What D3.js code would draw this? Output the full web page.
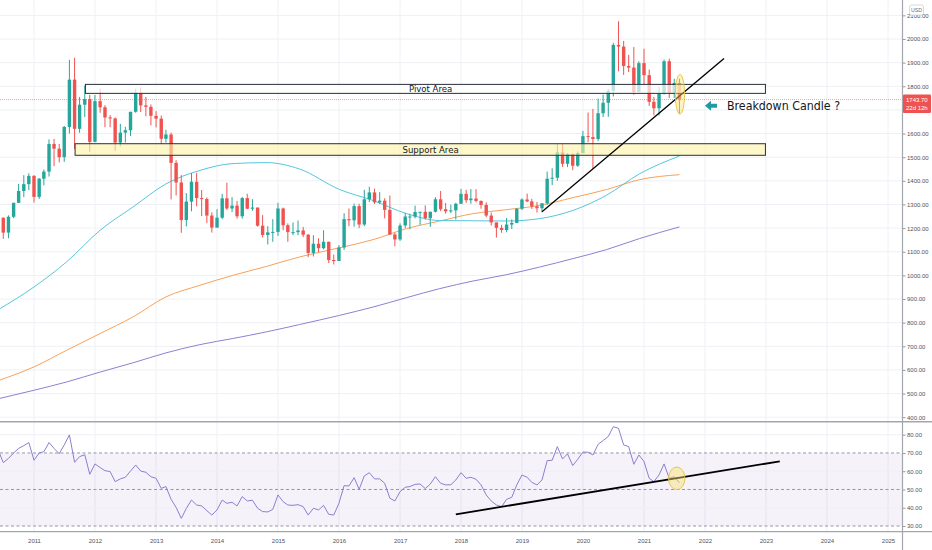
<!DOCTYPE html>
<html>
<head>
<meta charset="utf-8">
<script src="https://cdn.jsdelivr.net/npm/d3@7"></script>
<style>
  body { margin: 0; background: #fff; }
  svg { display: block; }
  .axis text { font-family: "Liberation Sans", Arial, sans-serif; font-size: 6px; fill: #50535e; }
  .note { font-family: "Liberation Sans Narrow", "DejaVu Sans Condensed", sans-serif; fill: #131722; }
</style>
</head>
<body>
<svg id="chart" width="932" height="550"></svg>
<script>
// monthly gold candles, Jun 2010 .. Aug 2021
const firstMonth = new Date(2010, 5, 1);
const lastMonth = new Date(2021, 7, 1);

const opens = [
  1214, 1244, 1181, 1248, 1307, 1357, 1386,
  1421, 1332, 1409, 1439, 1556, 1536, 1500, 1628, 1828, 1620, 1722, 1746,
  1565, 1737, 1711, 1668, 1664, 1562, 1604, 1614, 1692, 1772, 1719, 1713,
  1675, 1663, 1578, 1596, 1476, 1393, 1234, 1312, 1396, 1327, 1323, 1253,
  1202, 1244, 1326, 1283, 1295, 1250, 1327, 1282, 1287, 1210, 1171, 1182,
  1184, 1283, 1212, 1183, 1183, 1190, 1172, 1095, 1134, 1115, 1142, 1065,
  1061, 1118, 1238, 1233, 1293, 1215, 1322, 1351, 1309, 1316, 1277, 1173,
  1152, 1211, 1249, 1249, 1268, 1269, 1242, 1269, 1322, 1280, 1271, 1275,
  1303, 1345, 1318, 1325, 1315, 1298, 1253, 1224, 1201, 1192, 1215, 1222,
  1282, 1321, 1313, 1292, 1284, 1305, 1409, 1413, 1520, 1472, 1513, 1464,
  1517, 1589, 1585, 1577, 1686, 1730, 1781, 1975, 1968, 1886, 1879, 1776,
  1898, 1847, 1734, 1707, 1769, 1906, 1770, 1814
];
const highs = [
  1266, 1245, 1254, 1307, 1387, 1424, 1432,
  1424, 1412, 1448, 1575, 1577, 1556, 1632, 1912, 1921, 1755, 1803, 1764,
  1763, 1791, 1720, 1678, 1668, 1641, 1629, 1692, 1790, 1796, 1755, 1723,
  1695, 1676, 1616, 1604, 1487, 1424, 1348, 1433, 1434, 1361, 1330, 1267,
  1280, 1345, 1392, 1331, 1315, 1332, 1345, 1322, 1287, 1255, 1208, 1238,
  1307, 1287, 1220, 1224, 1232, 1205, 1175, 1170, 1157, 1191, 1143, 1088,
  1128, 1263, 1283, 1304, 1303, 1362, 1375, 1367, 1352, 1326, 1338, 1180,
  1220, 1264, 1261, 1295, 1269, 1296, 1270, 1331, 1357, 1306, 1299, 1307,
  1366, 1362, 1365, 1365, 1317, 1309, 1266, 1224, 1214, 1243, 1237, 1284,
  1326, 1346, 1324, 1310, 1306, 1439, 1453, 1555, 1557, 1517, 1516, 1525,
  1611, 1689, 1704, 1748, 1765, 1789, 1984, 2075, 1992, 1933, 1966, 1906,
  1959, 1871, 1755, 1798, 1913, 1917, 1832, 1832
];
const lows = [
  1200, 1155, 1157, 1242, 1306, 1331, 1360,
  1308, 1323, 1381, 1418, 1462, 1478, 1480, 1600, 1535, 1603, 1670, 1523,
  1563, 1688, 1627, 1627, 1527, 1546, 1562, 1590, 1688, 1691, 1673, 1635,
  1626, 1555, 1562, 1321, 1338, 1180, 1207, 1271, 1292, 1251, 1221, 1181,
  1202, 1238, 1277, 1268, 1240, 1240, 1280, 1273, 1206, 1160, 1131, 1142,
  1167, 1191, 1142, 1170, 1170, 1162, 1077, 1080, 1098, 1110, 1052, 1046,
  1061, 1108, 1208, 1206, 1200, 1208, 1310, 1302, 1302, 1241, 1171, 1123,
  1146, 1200, 1195, 1241, 1214, 1236, 1205, 1266, 1272, 1261, 1264, 1236,
  1302, 1307, 1303, 1309, 1282, 1246, 1211, 1160, 1180, 1182, 1196, 1221,
  1276, 1310, 1281, 1266, 1267, 1298, 1382, 1400, 1459, 1458, 1445, 1459,
  1517, 1563, 1451, 1568, 1670, 1671, 1757, 1863, 1848, 1860, 1764, 1775,
  1802, 1717, 1677, 1677, 1765, 1750, 1751, 1684
];
const closes = [
  1244, 1181, 1248, 1307, 1357, 1386, 1421,
  1332, 1409, 1439, 1556, 1536, 1500, 1628, 1828, 1620, 1722, 1746, 1565,
  1737, 1711, 1668, 1664, 1562, 1604, 1614, 1692, 1772, 1719, 1713, 1675,
  1663, 1578, 1596, 1476, 1393, 1234, 1312, 1396, 1327, 1323, 1253, 1202,
  1244, 1326, 1283, 1295, 1250, 1327, 1282, 1287, 1210, 1171, 1182, 1184,
  1283, 1212, 1183, 1183, 1190, 1172, 1095, 1134, 1115, 1142, 1065, 1061,
  1118, 1238, 1233, 1293, 1215, 1322, 1351, 1309, 1316, 1277, 1173, 1152,
  1211, 1249, 1249, 1268, 1269, 1242, 1269, 1322, 1280, 1271, 1275, 1303,
  1345, 1318, 1325, 1315, 1298, 1253, 1224, 1201, 1192, 1215, 1222, 1282,
  1321, 1313, 1292, 1284, 1305, 1409, 1413, 1520, 1472, 1513, 1464, 1517,
  1589, 1585, 1577, 1686, 1730, 1781, 1975, 1968, 1886, 1879, 1776, 1898,
  1847, 1734, 1707, 1769, 1906, 1770, 1814, 1743.7
];

// RSI, same months
const rsiValues = [
  71.5, 64.7, 67, 70, 72.5, 74, 75.7,
  66, 70, 70.7, 75.7, 72.5, 69.6, 74.4, 79.9, 64.9, 68, 69, 58.3,
  64, 62, 60.3, 59.8, 54.3, 55.8, 56.7, 60.1, 63.4, 60.1, 59.4, 57,
  56.1, 50.6, 51.6, 44.6, 40.2, 34.2, 39.6, 44.2, 41.5, 41, 38.4, 36,
  38.8, 44.2, 42.4, 43, 41, 46.1, 43.7, 44.1, 39.7, 37.9, 37.7, 39.1,
  47, 43.3, 41.5, 41.3, 41.7, 40.6, 36, 39.7, 38.8, 41.3, 36.4, 36,
  42.4, 52.1, 51.9, 56.5, 50.1, 57.4, 59.2, 55.8, 55.8, 53.4, 45.2, 43.7,
  48.8, 51.2, 51.6, 52.8, 53, 50.5, 53, 57, 53.4, 52.5, 52.6, 55.2,
  59.2, 56.1, 56.7, 55.6, 52.5, 47, 43.7, 41.5, 40.6, 44.6, 45.7, 52.5,
  57.9, 56.7, 53.9, 52.5, 55.2, 65.8, 66, 73.5, 66.7, 69.5, 63.1, 66.5,
  70.5, 70.4, 68.9, 74.7, 76.8, 79, 84.4, 83.5, 74.4, 73.5, 63.8, 68.9,
  65.3, 56.1, 54.3, 58, 64, 56.1, 57, 53.7
];

// moving averages
const maDates = ["2010-06-01", "2011-01-01", "2011-07-15", "2012-02-01", "2012-08-15",
  "2013-03-01", "2013-09-20", "2014-04-06", "2014-10-24", "2015-05-10", "2016-01-06",
  "2016-07-23", "2017-02-10", "2017-08-27", "2018-03-13", "2018-10-01", "2019-04-16",
  "2019-11-03", "2020-05-21", "2020-12-06", "2021-08-01"];
const ma50 = [855, 951, 1057, 1191, 1289, 1387, 1444, 1473, 1477, 1450, 1363,
  1317, 1261, 1232, 1231, 1230, 1240, 1275, 1339, 1430, 1505];
const ma100 = [555, 613, 683, 754, 824, 909, 958, 1000, 1038, 1078, 1117,
  1151, 1198, 1230, 1261, 1278, 1296, 1329, 1363, 1405, 1426];
const ma200 = [478, 514, 549, 591, 630, 672, 707, 733, 761, 792, 831,
  866, 906, 944, 976, 1003, 1035, 1071, 1109, 1156, 1205];

const priceTicks = [400, 500, 600, 700, 800, 900, 1000, 1100, 1200, 1300, 1400,
  1500, 1600, 1700, 1800, 1900, 2000, 2100];
const rsiTicks = [30, 40, 50, 60, 70, 80];
const rsiLevels = [30, 50, 70];
const yearTicks = [2011, 2012, 2013, 2014, 2015, 2016, 2017, 2018, 2019, 2020,
  2021, 2022, 2023, 2024, 2025];

const lastPrice = 1743.7;
const countdown = "22d 12h";

// drawings
const pivotArea = { from: "2011-11-05", to: "2022-12-29", low: 1770, high: 1808, label: "Pivot Area" };
const supportArea = { from: "2011-09-04", to: "2022-12-29", low: 1508, high: 1557, label: "Support Area" };
const labelDate = "2017-07-03";
const priceTrend = [["2019-05-01", 1269], ["2022-04-25", 1918]];
const rsiTrend = [["2017-12-01", 36.4], ["2023-03-25", 65.4]];
const priceCircle = { date: "2021-08-04", value: 1766 };
const rsiCircle = { date: "2021-07-16", value: 56.1 };
const arrowAt = { date: "2022-01-01", value: 1718 };
const noteText = "Breakdown Candle ?";

// ---------------------------------------------------------------
const svg = d3.select("#chart");
const W = 932;
const axisX = 902.5;
const paneSplit = 421.7;
const timeAxisY = 531.7;
const parse = d3.timeParse("%Y-%m-%d");

const x = d3.scaleTime()
  .domain([new Date(2011, 0, 1), new Date(2025, 0, 1)])
  .range([34, 888]);
const yPrice = d3.scaleLinear().domain([400, 2000]).range([417.2, 39]);
const yRsi = d3.scaleLinear().domain([30, 80]).range([526, 434.7]);

const months = d3.timeMonth.range(firstMonth, d3.timeMonth.offset(lastMonth, 1));
const candles = months.map((d, i) => ({
  date: d, o: opens[i], h: highs[i], l: lows[i], c: closes[i], rsi: rsiValues[i]
}));

// last price label box (axis labels under it are hidden, like on the platform)
const lp = yPrice(lastPrice);
const lpTop = lp - 5, lpBottom = lp + 13.5;
const priceLabels = priceTicks.filter(t => yPrice(t) + 3 < lpTop || yPrice(t) - 3 > lpBottom);

const defs = svg.append("defs");
defs.append("clipPath").attr("id", "clipPrice")
  .append("rect").attr("x", 0).attr("y", 0).attr("width", axisX).attr("height", paneSplit - 0.5);
defs.append("clipPath").attr("id", "clipRsi")
  .append("rect").attr("x", 0).attr("y", paneSplit + 0.5).attr("width", axisX)
  .attr("height", timeAxisY - paneSplit - 1);

const gridColor = "#eef0f5";

// vertical year grid over both panes
svg.append("g").selectAll("line")
  .data(yearTicks)
  .join("line")
  .attr("x1", d => x(new Date(d, 0, 1))).attr("x2", d => x(new Date(d, 0, 1)))
  .attr("y1", 0).attr("y2", timeAxisY)
  .attr("stroke", gridColor).attr("stroke-width", 1);

// ---------------- price pane ----------------
const price = svg.append("g").attr("clip-path", "url(#clipPrice)");

price.append("g").selectAll("line")
  .data(priceTicks)
  .join("line")
  .attr("x1", 0).attr("x2", axisX)
  .attr("y1", d => yPrice(d)).attr("y2", d => yPrice(d))
  .attr("stroke", gridColor);

// last price line
price.append("line")
  .attr("x1", 0).attr("x2", axisX)
  .attr("y1", lp).attr("y2", lp)
  .attr("stroke", "#ef5350").attr("stroke-opacity", 0.55)
  .attr("stroke-dasharray", "1,1");

// moving averages
const maLine = d3.line()
  .x(d => x(d[0]))
  .y(d => yPrice(d[1]))
  .curve(d3.curveMonotoneX);
const maDateObjs = maDates.map(parse);
[[ma200, "#8f7fd3"], [ma100, "#f7a15a"], [ma50, "#55c6dc"]].forEach(([vals, color]) => {
  price.append("path")
    .datum(maDateObjs.map((d, i) => [d, vals[i]]))
    .attr("d", maLine)
    .attr("fill", "none")
    .attr("stroke", color)
    .attr("stroke-width", 1);
});

// candles
const up = "#26a69a", down = "#ef5350";
const bodyW = 3.4;
const cg = price.append("g").selectAll("g")
  .data(candles)
  .join("g")
  .attr("fill", d => d.c >= d.o ? up : down)
  .attr("stroke", d => d.c >= d.o ? up : down);
cg.append("line")
  .attr("x1", d => x(d.date)).attr("x2", d => x(d.date))
  .attr("y1", d => yPrice(d.h)).attr("y2", d => yPrice(d.l))
  .attr("stroke-width", 1);
cg.append("rect")
  .attr("x", d => x(d.date) - bodyW / 2)
  .attr("width", bodyW)
  .attr("y", d => yPrice(Math.max(d.o, d.c)))
  .attr("height", d => Math.max(1, Math.abs(yPrice(d.o) - yPrice(d.c))))
  .attr("stroke", "none");

// areas
function drawArea(a, fill) {
  const x0 = x(parse(a.from)), x1 = x(parse(a.to));
  const y0 = yPrice(a.high), y1 = yPrice(a.low);
  price.append("rect")
    .attr("x", x0).attr("y", y0)
    .attr("width", x1 - x0).attr("height", y1 - y0)
    .attr("fill", fill)
    .attr("stroke", "#2a2e39").attr("stroke-width", 1);
  price.append("text")
    .attr("class", "note")
    .attr("x", x(parse(labelDate)))
    .attr("y", (y0 + y1) / 2 + 3.2)
    .attr("text-anchor", "middle")
    .attr("font-size", 9.5)
    .text(a.label);
}
drawArea(pivotArea, "rgba(255,255,255,0.7)");
drawArea(supportArea, "rgba(253,242,170,0.62)");

// trend line
price.append("line")
  .attr("x1", x(parse(priceTrend[0][0]))).attr("y1", yPrice(priceTrend[0][1]))
  .attr("x2", x(parse(priceTrend[1][0]))).attr("y2", yPrice(priceTrend[1][1]))
  .attr("stroke", "#000").attr("stroke-width", 1.3);

// highlight ellipse
price.append("ellipse")
  .attr("cx", x(parse(priceCircle.date))).attr("cy", yPrice(priceCircle.value))
  .attr("rx", 4.6).attr("ry", 20)
  .attr("fill", "rgba(250,226,110,0.42)")
  .attr("stroke", "rgba(225,195,70,0.9)").attr("stroke-width", 1);

// arrow + note
const ax = x(parse(arrowAt.date)), ay = yPrice(arrowAt.value);
price.append("path")
  .attr("d", `M${ax},${ay} L${ax + 6},${ay - 5} L${ax + 6},${ay - 2} L${ax + 12},${ay - 2}
              L${ax + 12},${ay + 2} L${ax + 6},${ay + 2} L${ax + 6},${ay + 5} Z`)
  .attr("fill", "#1c9ba6");
price.append("text")
  .attr("class", "note")
  .attr("x", ax + 22).attr("y", ay + 4.3)
  .attr("font-size", 12.3)
  .text(noteText);

// ---------------- RSI pane ----------------
const rsi = svg.append("g").attr("clip-path", "url(#clipRsi)");

rsi.append("rect")
  .attr("x", 0).attr("width", axisX)
  .attr("y", yRsi(70)).attr("height", yRsi(30) - yRsi(70))
  .attr("fill", "rgba(126,87,194,0.08)");

rsi.append("g").selectAll("line")
  .data(rsiTicks.filter(t => !rsiLevels.includes(t)))
  .join("line")
  .attr("x1", 0).attr("x2", axisX)
  .attr("y1", d => yRsi(d)).attr("y2", d => yRsi(d))
  .attr("stroke", gridColor);

rsi.append("g").selectAll("line")
  .data(rsiLevels)
  .join("line")
  .attr("x1", 0).attr("x2", axisX)
  .attr("y1", d => yRsi(d)).attr("y2", d => yRsi(d))
  .attr("stroke", "#9598a1").attr("stroke-width", 1)
  .attr("stroke-dasharray", "3,2.5");

rsi.append("path")
  .datum(candles)
  .attr("d", d3.line().x(d => x(d.date)).y(d => yRsi(d.rsi)))
  .attr("fill", "none")
  .attr("stroke", "#8c7fcf")
  .attr("stroke-width", 1);

rsi.append("line")
  .attr("x1", x(parse(rsiTrend[0][0]))).attr("y1", yRsi(rsiTrend[0][1]))
  .attr("x2", x(parse(rsiTrend[1][0]))).attr("y2", yRsi(rsiTrend[1][1]))
  .attr("stroke", "#000").attr("stroke-width", 1.8);

rsi.append("ellipse")
  .attr("cx", x(parse(rsiCircle.date))).attr("cy", yRsi(rsiCircle.value))
  .attr("rx", 8.2).attr("ry", 11.3)
  .attr("fill", "rgba(250,226,110,0.45)")
  .attr("stroke", "rgba(225,195,70,0.9)").attr("stroke-width", 1);

// ---------------- axes ----------------
const priceAxis = svg.append("g")
  .attr("class", "axis")
  .attr("transform", `translate(${axisX},0)`)
  .call(d3.axisRight(yPrice).tickValues(priceLabels).tickFormat(d3.format(".2f"))
    .tickSize(3).tickPadding(1.5));
const rsiAxis = svg.append("g")
  .attr("class", "axis")
  .attr("transform", `translate(${axisX},0)`)
  .call(d3.axisRight(yRsi).tickValues(rsiTicks).tickFormat(d3.format(".2f"))
    .tickSize(3).tickPadding(1.5));
const timeAxis = svg.append("g")
  .attr("class", "axis")
  .attr("transform", `translate(0,${timeAxisY})`)
  .call(d3.axisBottom(x).tickValues(yearTicks.map(yr => new Date(yr, 0, 1)))
    .tickFormat(d3.timeFormat("%Y")).tickSize(0).tickPadding(7.5));
[priceAxis, rsiAxis, timeAxis].forEach(g => {
  g.select(".domain").remove();
  g.selectAll(".tick line").attr("stroke", "#9598a1");
});

// frame lines
svg.append("line")
  .attr("x1", 0).attr("x2", W).attr("y1", paneSplit).attr("y2", paneSplit)
  .attr("stroke", "#a3a6af").attr("stroke-width", 1.4);
svg.append("line")
  .attr("x1", 0).attr("x2", W).attr("y1", timeAxisY).attr("y2", timeAxisY)
  .attr("stroke", "#a3a6af").attr("stroke-width", 1.2);
svg.append("line")
  .attr("x1", axisX).attr("x2", axisX).attr("y1", 0).attr("y2", 550)
  .attr("stroke", "#a3a6af").attr("stroke-width", 1.2);

// last price label
const lbl = svg.append("g");
lbl.append("rect")
  .attr("x", axisX + 0.5).attr("y", lpTop).attr("width", 28).attr("height", lpBottom - lpTop)
  .attr("rx", 1).attr("fill", "#ef5350");
lbl.append("text")
  .attr("x", axisX + 3.5).attr("y", lp + 2.3)
  .attr("font-family", "Liberation Sans, Arial, sans-serif").attr("font-size", 6)
  .attr("fill", "#fff").text(d3.format(".2f")(lastPrice));
lbl.append("text")
  .attr("x", axisX + 3.5).attr("y", lp + 10.8)
  .attr("font-family", "Liberation Sans, Arial, sans-serif").attr("font-size", 6)
  .attr("fill", "#fff").text(countdown);

// currency badge
const badge = svg.append("g");
badge.append("rect")
  .attr("x", 909.5).attr("y", 5).attr("width", 14).attr("height", 10)
  .attr("rx", 2).attr("fill", "#fff").attr("stroke", "#c9ccd4").attr("stroke-width", 0.7);
badge.append("text")
  .attr("x", 916.5).attr("y", 11.8).attr("text-anchor", "middle")
  .attr("font-family", "Liberation Sans, Arial, sans-serif").attr("font-size", 5.2)
  .attr("fill", "#6a6d78").text("USD");
</script>
</body>
</html>
